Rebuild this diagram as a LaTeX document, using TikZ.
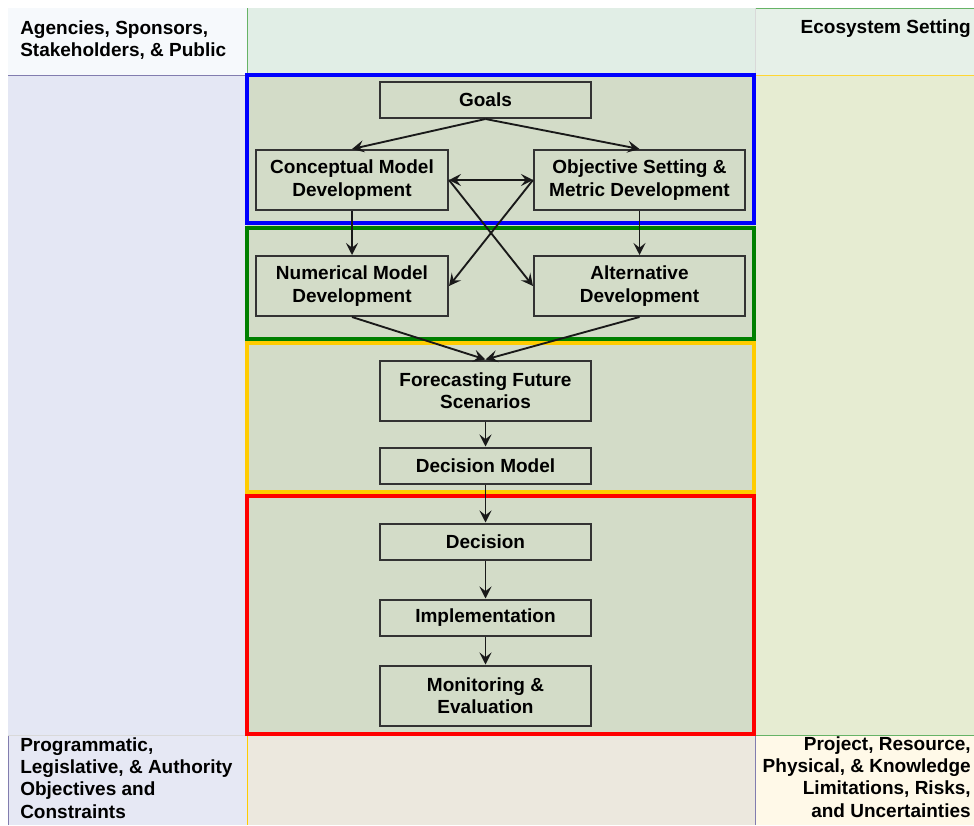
\documentclass[tikz,border=0pt]{standalone}
\usepackage{fontspec}
\setmainfont{Liberation Sans}
\usetikzlibrary{arrows.meta,positioning}

\definecolor{midbg}{RGB}{211,220,200}
\definecolor{leftbg}{RGB}{228,231,244}
\definecolor{rightbg}{RGB}{230,236,210}
\definecolor{tlbg}{RGB}{246,249,252}
\definecolor{tmbg}{RGB}{225,238,230}
\definecolor{trbg}{RGB}{230,240,232}
\definecolor{blbg}{RGB}{230,232,244}
\definecolor{bmbg}{RGB}{236,232,222}
\definecolor{brbg}{RGB}{255,249,232}
\definecolor{frameyellow}{RGB}{255,204,0}
\definecolor{framegreen}{RGB}{0,128,0}
\definecolor{edgepurple}{RGB}{130,125,175}
\newcommand\lblfont{\fontsize{14.25}{16.8}\selectfont\bfseries}

\begin{document}
\begin{tikzpicture}[x=0.75pt, y=-0.75pt,
    >={Stealth[length=9pt,width=9pt,inset=3.5pt]},
    box/.style={draw=black!80, line width=1.5pt, fill=midbg, inner sep=0pt,
      minimum width=158.25pt, minimum height=27pt, align=center, font=\lblfont},
    tallbox/.style={box, minimum height=45pt},
    sidebox/.style={tallbox, minimum width=144pt},
    frame/.style={line width=3pt},
    flow/.style={->, line width=1.4pt, black!90},
    lbl/.style={inner sep=0pt, font=\lblfont}]
  \useasboundingbox (0,0) rectangle (974,825);
  % columns
  \fill[leftbg]  (8,75)  rectangle (247,735);
  \fill[midbg]   (247,73) rectangle (755,735);
  \fill[rightbg] (755,75) rectangle (974,735);
  % header row
  \fill[tlbg] (8,8)   rectangle (247,75);
  \fill[tmbg] (247,8) rectangle (755,73);
  \fill[trbg] (755,8) rectangle (974,75);
  % footer row
  \fill[blbg] (8,735)   rectangle (247,825);
  \fill[bmbg] (247,735) rectangle (755,825);
  \fill[brbg] (755,735) rectangle (974,825);
  % cell edges
  \draw[edgepurple] (8,75) -- (247,75);
  \draw[framegreen!60] (247,8) -- (247,75);
  \draw[framegreen!60] (755,8) -- (974,8);
  \draw[black!15] (755,8) -- (755,75);
  \draw[frameyellow!80] (755,75) -- (974,75);
  \draw[edgepurple] (8,735) -- (8,825);
  \draw[black!15] (8,735) -- (247,735);
  \draw[frameyellow] (247,735) -- (247,825);
  \draw[edgepurple] (755,735) -- (755,825);
  \draw[framegreen!60] (755,735) -- (974,735);

  % phase frames
  \draw[frame, blue]        (247,74.5) rectangle (754,223);
  \draw[frame, framegreen]  (247,228)  rectangle (754,339);
  \draw[frame, frameyellow] (247,343)  rectangle (754,491.5);
  \draw[frame, red]         (247,495.5) rectangle (754,734);

  % corner labels
  \node[lbl, anchor=north west, align=left] (agencies) at (20,20)
    {Agencies, Sponsors,\\Stakeholders, \& Public};
  \node[lbl, anchor=north east, align=right] (ecosystem) at (971,19)
    {Ecosystem Setting};
  \node[lbl, anchor=north west, align=left] (programmatic) at (20,737)
    {Programmatic,\\Legislative, \& Authority\\Objectives and\\Constraints};
  \node[lbl, anchor=north east, align=right] (limitations) at (971,736)
    {Project, Resource,\\Physical, \& Knowledge\\Limitations, Risks,\\and Uncertainties};

  % process boxes
  \node[box]      (goals)       at (485.5,100) {Goals};
  \node[sidebox]  (concept)     at (352,180)   {Conceptual Model\\Development};
  \node[tallbox]  (objective)   at (639.5,180) {Objective Setting \&\\Metric Development};
  \node[sidebox, below=33pt of concept]   (numerical)   {Numerical Model\\Development};
  \node[tallbox, below=33pt of objective] (alternative) {Alternative\\Development};
  \node[tallbox]  (forecast)    at (485.5,390.5) {Forecasting Future\\Scenarios};
  \node[box, below=18.75pt of forecast]  (dmodel)   {Decision Model};
  \node[box, below=28.5pt of dmodel]     (decision) {Decision};
  \node[box, below=28.5pt of decision]   (implement) {Implementation};
  \node[tallbox, below=21pt of implement] (monitor) {Monitoring \&\\Evaluation};

  % connectors
  \draw[flow] (goals.south) -- (concept.north);
  \draw[flow] (goals.south) -- (objective.north);
  \draw[flow, <->] (concept.east) -- (objective.west);
  \draw[flow] (concept.east) -- (alternative.west);
  \draw[flow] (objective.west) -- (numerical.east);
  \draw[flow] (concept.south) -- (numerical.north);
  \draw[flow] (objective.south) -- (alternative.north);
  \draw[flow] (numerical.south) -- (forecast.north);
  \draw[flow] (alternative.south) -- (forecast.north);
  \draw[flow] (forecast) -- (dmodel);
  \draw[flow] (dmodel) -- (decision);
  \draw[flow] (decision) -- (implement);
  \draw[flow] (implement) -- (monitor);
\end{tikzpicture}
\end{document}
